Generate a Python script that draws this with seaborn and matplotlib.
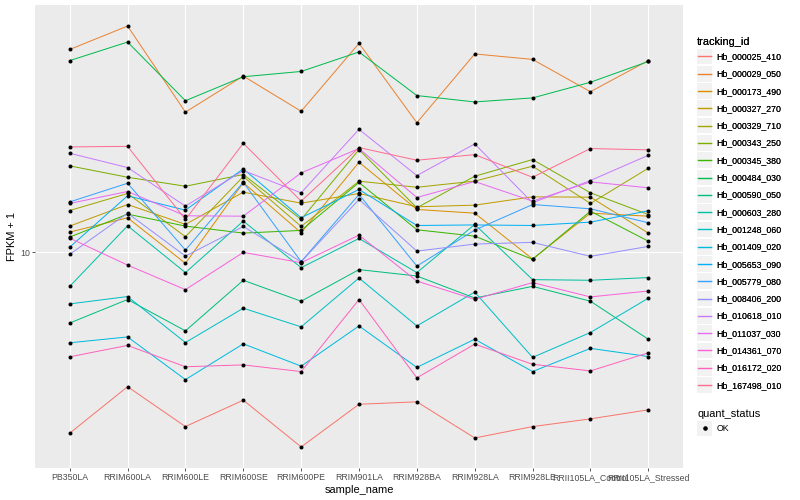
import matplotlib
matplotlib.use("Agg")
import matplotlib.pyplot as plt
import pandas as pd
import seaborn as sns
from matplotlib.lines import Line2D
from matplotlib.patches import Rectangle
from matplotlib.legend_handler import HandlerBase
from matplotlib.ticker import NullLocator

# ---------------- data ----------------
samples = ["PB350LA", "RRIM600LA", "RRIM600LE", "RRIM600SE", "RRIM600PE",
           "RRIM901LA", "RRIM928BA", "RRIM928LA", "RRIM928LE",
           "RRII105LA_Control", "RRII105LA_Stressed"]

tracking_ids = ["Hb_000025_410", "Hb_000029_050", "Hb_000173_490", "Hb_000327_270",
                "Hb_000329_710", "Hb_000343_250", "Hb_000345_380", "Hb_000484_030",
                "Hb_000590_050", "Hb_000603_280", "Hb_001248_060", "Hb_001409_020",
                "Hb_005653_090", "Hb_005779_080", "Hb_008406_200", "Hb_010618_010",
                "Hb_011037_030", "Hb_014361_070", "Hb_016172_020", "Hb_167498_010"]

hb_000025_410 = [2.49, 3.56, 2.62, 3.21, 2.24, 3.11, 3.17, 2.40, 2.62, 2.78, 2.98]
hb_000029_050 = [47.6, 57.0, 29.4, 38.8, 29.6, 49.9, 27.1, 46.0, 44.1, 34.4, 43.7]
hb_000173_490 = [11.69, 13.05, 9.19, 17.1, 11.63, 20.0, 13.91, 13.52, 9.5, 13.52, 13.21]
hb_000327_270 = [12.24, 14.45, 12.4, 15.89, 14.6, 15.73, 14.2, 14.38, 15.33, 15.29, 11.6]
hb_000329_710 = [13.8, 15.73, 11.28, 17.92, 12.21, 17.29, 16.5, 17.3, 19.4, 14.57, 19.1]
hb_000343_250 = [19.45, 17.82, 16.63, 18.2, 12.88, 22.04, 14.09, 17.96, 20.42, 15.81, 13.38]
hb_000345_380 = [11.25, 13.42, 12.24, 11.6, 11.84, 17.12, 11.9, 11.33, 9.48, 13.73, 10.9]
hb_000484_030 = [43.7, 50.4, 32.1, 38.6, 40.2, 46.7, 33.4, 31.8, 32.8, 37.0, 43.4]
hb_000590_050 = [5.81, 6.96, 5.47, 8.07, 6.87, 8.76, 8.34, 7.04, 7.70, 6.87, 5.13]
hb_000603_280 = [7.70, 12.27, 8.56, 12.72, 8.89, 11.13, 8.56, 12.40, 8.11, 8.07, 8.24]
hb_001248_060 = [6.73, 7.12, 5.00, 6.51, 5.64, 8.21, 5.68, 7.37, 4.46, 5.40, 7.03]
hb_001409_020 = [4.99, 5.22, 3.76, 4.95, 4.17, 5.68, 4.13, 5.13, 4.00, 4.78, 4.49]
hb_005653_090 = [10.41, 15.45, 13.84, 19.01, 13.05, 16.22, 12.3, 12.35, 12.3, 12.62, 13.77]
hb_005779_080 = [14.74, 17.02, 10.18, 17.15, 9.31, 15.61, 9.0, 11.87, 14.45, 13.98, 12.56]
hb_008406_200 = [9.85, 13.52, 9.72, 12.21, 9.3, 15.02, 10.1, 10.66, 10.8, 9.7, 10.47]
hb_010618_010 = [21.43, 19.2, 14.27, 18.76, 15.81, 25.76, 18.05, 23.03, 14.64, 17.38, 21.1]
hb_011037_030 = [14.57, 15.97, 13.25, 13.21, 18.43, 22.22, 15.25, 17.25, 14.83, 17.2, 16.43]
hb_014361_070 = [11.16, 9.07, 7.51, 10.0, 9.24, 11.42, 8.02, 6.97, 7.93, 7.10, 7.43]
hb_016172_020 = [4.48, 4.89, 4.15, 4.21, 4.00, 6.96, 3.81, 4.94, 4.23, 4.02, 4.62]
hb_167498_010 = [22.5, 22.6, 12.88, 23.14, 14.83, 22.39, 20.31, 21.21, 17.82, 22.22, 22.0]

series_values = [hb_000025_410, hb_000029_050, hb_000173_490, hb_000327_270,
                 hb_000329_710, hb_000343_250, hb_000345_380, hb_000484_030,
                 hb_000590_050, hb_000603_280, hb_001248_060, hb_001409_020,
                 hb_005653_090, hb_005779_080, hb_008406_200, hb_010618_010,
                 hb_011037_030, hb_014361_070, hb_016172_020, hb_167498_010]

quant_status = ["OK"]

# ---------------- style ----------------
palette = ["#F8766D", "#EA8331", "#D89000", "#C09B00", "#A3A500", "#7CAE00",
           "#39B600", "#00BB4E", "#00BF7D", "#00C1A3", "#00BFC4", "#00BAE0",
           "#00B0F6", "#35A2FF", "#9590FF", "#C77CFF", "#E76BF3", "#FA62DB",
           "#FF62BC", "#FF6C91"]
key_bg = "#F2F2F2"

rows = []
for tid, vals in zip(tracking_ids, series_values):
    for s, v in zip(samples, vals):
        rows.append({"tracking_id": tid, "sample_name": s, "FPKM + 1": v,
                     "quant_status": quant_status[0]})
df = pd.DataFrame(rows)

plt.rcParams["font.family"] = ["Liberation Sans", "DejaVu Sans"]

fig = plt.figure(figsize=(800 / 72, 500 / 72), dpi=72)
ax = fig.add_axes([35 / 800, 32 / 500, (683 - 35) / 800, (468 - 5) / 500])
ax.set_facecolor("#EBEBEB")
for sp in ax.spines.values():
    sp.set_visible(False)
ax.set_yscale("log")
ax.set_axisbelow(True)

sns.lineplot(data=df, x="sample_name", y="FPKM + 1", hue="tracking_id",
             hue_order=tracking_ids, palette=palette, sort=False,
             estimator=None, legend=False, linewidth=1.0, ax=ax)
sns.scatterplot(data=df, x="sample_name", y="FPKM + 1", color="black",
                s=16, linewidth=0, legend=False, ax=ax, zorder=5)

ax.set_xlim(-0.6, len(samples) - 1 + 0.6)
ax.set_yticks([10])
ax.set_yticklabels(["10"])
ax.yaxis.set_minor_locator(NullLocator())
ax.grid(True, which="major", color="white", linewidth=1.1)
ax.tick_params(axis="both", length=2.75, width=0.8, color="#333333",
               labelsize=8.8, labelcolor="#4D4D4D", pad=2.2)
ax.set_xlabel("sample_name", fontsize=11, labelpad=3)
ax.set_ylabel("FPKM + 1", fontsize=11, labelpad=3)


class KeyHandler(HandlerBase):
    """ggplot-like legend key: grey square with a line or a point on it."""

    def __init__(self, point=False):
        super().__init__()
        self.point = point

    def create_artists(self, legend, orig_handle, xdescent, ydescent,
                       width, height, fontsize, trans):
        x0, y0 = -xdescent, -ydescent
        bg = Rectangle((x0, y0), width, height, facecolor=key_bg,
                       edgecolor="none", transform=trans)
        if self.point:
            mk = Line2D([x0 + width / 2], [y0 + height / 2], marker="o",
                        linestyle="none", color="black", markersize=3.5,
                        transform=trans)
        else:
            mk = Line2D([x0 + 1, x0 + width - 1], [y0 + height / 2] * 2,
                        color=orig_handle.get_color(), linewidth=1.4,
                        transform=trans)
        return [bg, mk]


common = dict(loc="upper left", frameon=False, fontsize=8.8, title_fontsize=11,
              handlelength=1.76, handleheight=2.37, labelspacing=0.18,
              handletextpad=0.45, borderpad=0, borderaxespad=0,
              alignment="left")

handles1 = [Line2D([], [], color=c) for c in palette]
leg1 = fig.legend(handles1, tracking_ids,
                  handler_map={Line2D: KeyHandler(point=False)},
                  bbox_to_anchor=(697 / 800, 1 - 37 / 500),
                  title="tracking_id", **common)
handles2 = [Line2D([], [], color="black")]
leg2 = fig.legend(handles2, quant_status,
                  handler_map={Line2D: KeyHandler(point=True)},
                  bbox_to_anchor=(697 / 800, 1 - 409 / 500),
                  title="quant_status", **common)
fig.add_artist(leg1)

fig.savefig("out.png", dpi=72)
